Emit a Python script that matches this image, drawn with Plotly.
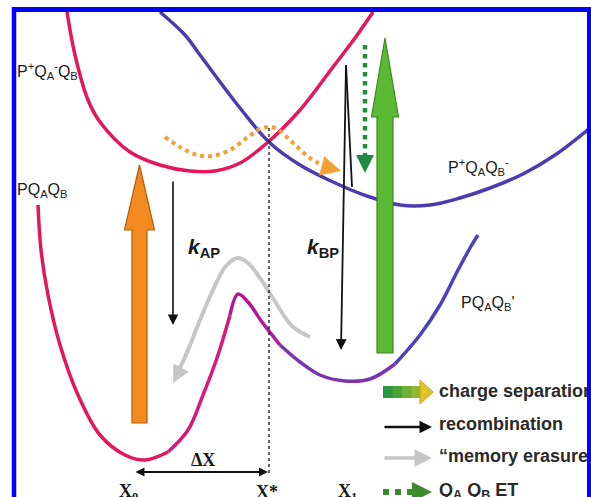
import plotly.graph_objects as go

# ---- data (diagram coordinates in a 591 x 497 frame, y downward) ----
upper_red_x = [67, 75, 88, 100, 130, 160, 190, 215, 240, 267, 300, 333, 355, 373]
upper_red_y = [12, 55, 100, 122, 152, 165, 171, 171, 163, 143, 110, 67, 38, 12]

upper_blue_x = [160, 185, 200, 240, 270, 300, 333, 367, 400, 430, 460, 490, 523, 555, 590]
upper_blue_y = [12, 35, 55, 108, 143, 165, 182, 196, 205, 205, 198, 188, 174, 155, 128]

lower_x = [38, 41, 48, 60, 78, 100, 125, 145, 168, 188, 203, 218, 230, 238, 248, 262,
           280, 300, 320, 345, 370, 395, 420, 440, 457, 470, 478]
lower_y = [205, 250, 295, 345, 395, 435, 455, 460, 452, 430, 395, 355, 315, 294, 302, 322,
           345, 362, 375, 381, 379, 364, 335, 305, 272, 248, 235]
lower_split = [0, 8, 12, 16, 21, 26]
lower_colors = ["#E3175C", "#D8187A", "#B01898", "#7B34AE", "#4A42BC"]

gray_x = [310, 292, 276, 260, 248, 238, 226, 213, 200, 188, 180]
gray_y = [337, 326, 303, 278, 263, 258, 266, 290, 320, 350, 368]

orange_dot_x = [165, 180, 197, 212, 230, 248, 262, 275, 293, 310, 326]
orange_dot_y = [137, 147, 155, 156, 150, 137, 128, 128, 143, 158, 167]

# block arrows: [x_center, y_tip, y_head_base, y_bottom, shaft_half, head_half]
orange_arrow = [139.5, 165, 230, 423, 7.5, 15]
green_arrow = [385, 38, 117, 353, 8, 13.5]

labels = ["P<sup>+</sup>Q<sub>A</sub><sup>-</sup>Q<sub>B</sub>",
          "PQ<sub>A</sub>Q<sub>B</sub>",
          "P<sup>+</sup>Q<sub>A</sub>Q<sub>B</sub><sup>-</sup>",
          "PQ<sub>A</sub>Q<sub>B</sub>'"]
label_x = [15, 15, 446, 459]
label_y = [71, 190, 167, 303]

legend_text = ["charge separation", "recombination", "\u201cmemory erasure",
               "Q<sub>A</sub> Q<sub>B</sub> ET"]
legend_y = [392, 425, 457, 491]

axis_labels = ["X<sub>0</sub>", "X*", "X<sub>1</sub>", "\u0394X"]
axis_label_x = [128, 267, 347, 203]
axis_label_y = [492, 492, 492, 460]

fig = go.Figure()


def line(xs, ys, color, width, dash="solid", shape="spline"):
    fig.add_trace(go.Scatter(x=xs, y=ys, mode="lines",
                             line=dict(color=color, width=width, dash=dash, shape=shape, smoothing=1.0),
                             hoverinfo="skip", showlegend=False))


def block_arrow(p, fill, edge):
    xc, yt, yh, yb, sh, hh = p
    xs = [xc, xc + hh, xc + sh, xc + sh, xc - sh, xc - sh, xc - hh, xc]
    ys = [yt, yh, yh, yb, yb, yh, yh, yt]
    fig.add_trace(go.Scatter(x=xs, y=ys, mode="lines", fill="toself", fillcolor=fill,
                             line=dict(color=edge, width=1.2), hoverinfo="skip", showlegend=False))
    xs2 = [xc - sh * 0.35, xc + sh * 0.25, xc + sh * 0.25, xc - sh * 0.35, xc - sh * 0.35]
    ys2 = [yh + 2, yh + 2, yb - 2, yb - 2, yh + 2]
    fig.add_trace(go.Scatter(x=xs2, y=ys2, mode="lines", fill="toself", fillcolor=fill,
                             line=dict(width=0), opacity=0.5, hoverinfo="skip", showlegend=False))


# upper curves
line(upper_red_x, upper_red_y, "#E4175A", 3.5)
line(upper_blue_x, upper_blue_y, "#4B3DAE", 3.5)

# lower curve with colour gradient
for i in range(len(lower_colors)):
    a, b = lower_split[i], lower_split[i + 1]
    line(lower_x[a:b + 1], lower_y[a:b + 1], lower_colors[i], 3.5)

# gray memory erasure curve
line(gray_x, gray_y, "#C6C6C6", 4)

# block arrows
block_arrow(orange_arrow, "#F28A1E", "#B45A12")
block_arrow(green_arrow, "#5CB934", "#3B8A22")

# orange dotted path
line(orange_dot_x, orange_dot_y, "#F4A035", 4, dash="dot")
# green dotted vertical
line([365, 365], [45, 162], "#1F8B45", 4.5, dash="dot", shape="linear")
# dotted vertical X*
line([269, 269], [128, 473], "#111111", 1.3, dash="dot", shape="linear")
# k_BP zig line
line([352, 346], [187, 65], "#111111", 1.8, shape="linear")

# legend arrows
leg_strip_cols = ["#2E9438", "#4AA23A", "#6CAE36", "#90B834"]
for i, c in enumerate(leg_strip_cols):
    x0 = 383 + i * 9.5
    fig.add_trace(go.Scatter(x=[x0, x0 + 10, x0 + 10, x0, x0], y=[386, 386, 398, 398, 386],
                             mode="lines", fill="toself", fillcolor=c, line=dict(width=0),
                             hoverinfo="skip", showlegend=False))
fig.add_trace(go.Scatter(x=[420, 433, 420, 420], y=[380, 392, 404, 380], mode="lines",
                         fill="toself", fillcolor="#E2C22A", line=dict(color="#C8A020", width=1),
                         hoverinfo="skip", showlegend=False))
line([383, 420], [492, 492], "#3E8A2E", 6, dash="dot", shape="linear")

# legend texts (as text traces so they clip at the frame)
fig.add_trace(go.Scatter(x=[439] * len(legend_text), y=legend_y, mode="text",
                         text=legend_text, textposition="middle right",
                         textfont=dict(family="Arial, Liberation Sans", size=18, color="#2A2A2A", weight="bold"),
                         hoverinfo="skip", showlegend=False, cliponaxis=True))

ann = []


def arrow(x0, y0, x1, y1, color, width, head=2, size=1.0, side="end"):
    ann.append(dict(x=x1, y=y1, ax=x0, ay=y0, xref="x", yref="y", axref="x", ayref="y",
                    showarrow=True, arrowhead=head, arrowsize=size, arrowwidth=width,
                    arrowcolor=color, arrowside=side, text=""))


arrow(173, 180, 173, 325, "#111111", 1.6, 2, 1.3)
arrow(346, 65, 341, 350, "#111111", 1.8, 2, 1.2)
arrow(134, 472, 268, 472, "#111111", 1.8, 2, 1.0, "end+start")
arrow(326, 167, 341, 171, "#F4A035", 4, 2, 1.0)
arrow(365, 157, 365, 173, "#1F8B45", 4, 2, 0.9)
arrow(182, 366, 173, 383, "#C6C6C6", 3.5, 2, 1.0)
arrow(383, 427, 432, 427, "#111111", 2.5, 2, 1.0)
arrow(383, 458, 432, 458, "#C6C6C6", 3.5, 2, 1.0)
arrow(418, 492, 432, 492, "#3E8A2E", 4, 2, 1.0)

for t, x, y in zip(labels, label_x, label_y):
    ann.append(dict(x=x, y=y, xref="x", yref="y", text=t, showarrow=False, xanchor="left",
                    font=dict(family="Arial, Liberation Sans", size=16, color="#1A1A1A")))

for t, x, y in zip(axis_labels, axis_label_x, axis_label_y):
    ann.append(dict(x=x, y=y, xref="x", yref="y", text="<b>" + t + "</b>", showarrow=False,
                    font=dict(family="Liberation Serif, Times New Roman", size=18, color="#1A1A1A")))

ann.append(dict(x=186, y=248, xref="x", yref="y", xanchor="left", showarrow=False,
                text="<b><i>k</i></b><sub><b>AP</b></sub>",
                font=dict(family="Arial, Liberation Sans", size=21, color="#1A1A1A")))
ann.append(dict(x=305, y=248, xref="x", yref="y", xanchor="left", showarrow=False,
                text="<b><i>k</i></b><sub><b>BP</b></sub>",
                font=dict(family="Arial, Liberation Sans", size=21, color="#1A1A1A")))

shapes = [
    dict(type="line", x0=14, x1=14, y0=7, y1=497, xref="x", yref="y",
         line=dict(color="#0000FF", width=4.5), layer="above"),
    dict(type="line", x0=12, x1=591, y0=9.5, y1=9.5, xref="x", yref="y",
         line=dict(color="#0000FF", width=5), layer="above"),
    dict(type="line", x0=589, x1=589, y0=7, y1=497, xref="x", yref="y",
         line=dict(color="#0000FF", width=4), layer="above"),
]

fig.update_layout(
    width=591, height=497, margin=dict(l=0, r=0, t=0, b=0),
    paper_bgcolor="white", plot_bgcolor="white",
    xaxis=dict(range=[0, 591], visible=False, fixedrange=True),
    yaxis=dict(range=[497, 0], visible=False, fixedrange=True),
    annotations=ann, shapes=shapes, showlegend=False,
)

fig.write_html("out.html")
